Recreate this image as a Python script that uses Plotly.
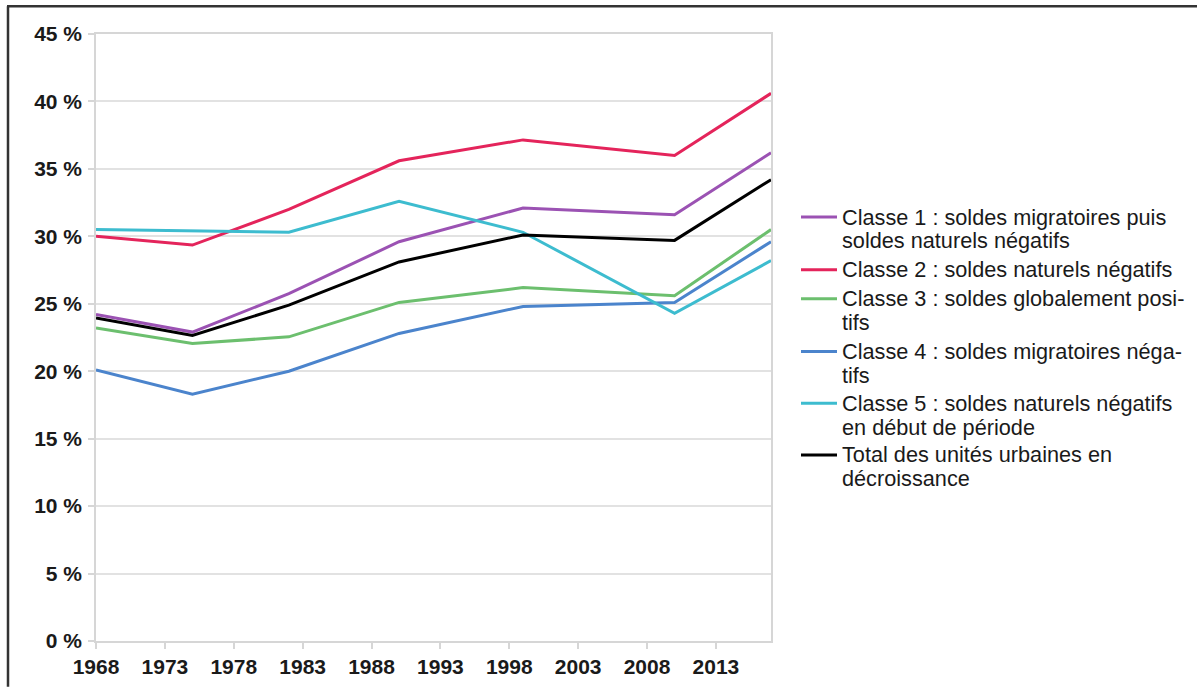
import plotly.graph_objects as go

# Census years and share of each class (%)
years = [1968, 1975, 1982, 1990, 1999, 2010, 2017]

classe_1 = [24.2, 22.9, 25.75, 29.6, 32.1, 31.6, 36.2]
classe_2 = [30.0, 29.35, 32.0, 35.6, 37.15, 36.0, 40.6]
classe_3 = [23.2, 22.05, 22.55, 25.1, 26.2, 25.6, 30.5]
classe_4 = [20.1, 18.3, 20.0, 22.8, 24.8, 25.1, 29.6]
classe_5 = [30.5, 30.4, 30.3, 32.6, 30.3, 24.3, 28.2]
total = [23.95, 22.65, 24.9, 28.1, 30.1, 29.7, 34.2]

series_values = [classe_1, classe_2, classe_3, classe_4, classe_5, total]
series_colors = ["#9b52b3", "#e4245b", "#6cbf6e", "#4b84cc", "#3dbccf", "#000000"]
legend_lines = [
    ["Classe 1 : soldes migratoires puis", "soldes naturels négatifs"],
    ["Classe 2 : soldes naturels négatifs"],
    ["Classe 3 : soldes globalement posi-", "tifs"],
    ["Classe 4 : soldes migratoires néga-", "tifs"],
    ["Classe 5 : soldes naturels négatifs", "en début de période"],
    ["Total des unités urbaines en", "décroissance"],
]

x_ticks = [1968, 1973, 1978, 1983, 1988, 1993, 1998, 2003, 2008, 2013]
y_ticks = [0, 5, 10, 15, 20, 25, 30, 35, 40, 45]

W, H = 1197, 690
PLOT_L, PLOT_R, PLOT_T, PLOT_B = 96, 771, 34, 644


def px_x(px):
    return (px - PLOT_L) / (PLOT_R - PLOT_L)


def px_y(py):
    return (PLOT_B - py) / (PLOT_B - PLOT_T)


fig = go.Figure()
for vals, color, lines in zip(series_values, series_colors, legend_lines):
    fig.add_trace(go.Scatter(
        x=years, y=vals, mode="lines", name=" ".join(lines),
        line=dict(color=color, width=3), showlegend=False,
    ))

# Legend drawn as swatches and text lines
shapes = []
annotations = []
first_line_y = [218, 271, 300, 353, 405, 457]
line_step = 24
for lines, color, y0 in zip(legend_lines, series_colors, first_line_y):
    shapes.append(dict(
        type="line", xref="paper", yref="paper",
        x0=px_x(801), x1=px_x(837), y0=px_y(y0), y1=px_y(y0),
        line=dict(color=color, width=3),
    ))
    for i, txt in enumerate(lines):
        annotations.append(dict(
            xref="paper", yref="paper", x=px_x(840), y=px_y(y0 + i * line_step),
            xanchor="left", yanchor="middle", text=txt, showarrow=False,
            font=dict(family="Liberation Sans", size=21.7, color="#1a1a1a"),
        ))

# Outer frame (top and left edges)
shapes.append(dict(type="line", xref="paper", yref="paper",
                   x0=px_x(7), x1=px_x(W), y0=px_y(6), y1=px_y(6),
                   line=dict(color="#333333", width=2.5)))
shapes.append(dict(type="line", xref="paper", yref="paper",
                   x0=px_x(8), x1=px_x(8), y0=px_y(6), y1=px_y(H),
                   line=dict(color="#333333", width=2.5)))

tick_font = dict(family="Liberation Sans", size=21, color="#1a1a1a", weight="bold")

fig.update_layout(
    width=W, height=H,
    margin=dict(l=PLOT_L, r=W - PLOT_R, t=PLOT_T, b=H - PLOT_B),
    paper_bgcolor="white", plot_bgcolor="white",
    shapes=shapes, annotations=annotations,
    xaxis=dict(
        range=[1968, 2017], tickvals=x_ticks, ticktext=[str(v) for v in x_ticks],
        showgrid=False, zeroline=False, showline=True, mirror=True,
        linecolor="#d6d6d6", linewidth=1.5,
        ticks="outside", ticklen=6, tickcolor="#d6d6d6", tickwidth=1.5,
        tickfont=tick_font,
    ),
    yaxis=dict(
        range=[0, 45], tickvals=y_ticks, ticktext=[f"{v} %" for v in y_ticks],
        showgrid=True, gridcolor="#e2e2e2", gridwidth=1.5, zeroline=False,
        showline=True, mirror=True, linecolor="#d6d6d6", linewidth=1.5,
        ticks="outside", ticklen=6, tickcolor="#d6d6d6", tickwidth=1.5,
        ticklabelstandoff=2, tickfont=tick_font,
    ),
    font=dict(family="Liberation Sans"),
)

fig.write_html("out.html")
